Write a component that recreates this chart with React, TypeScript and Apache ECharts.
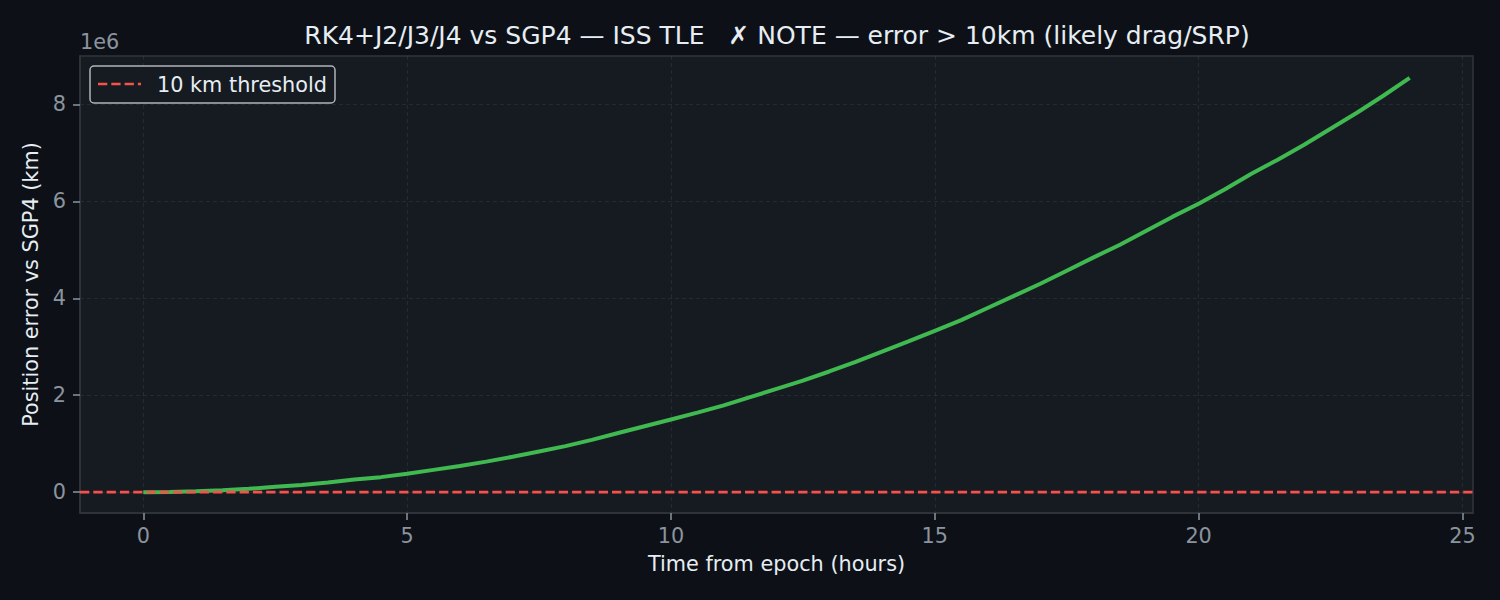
import React, { useEffect, useRef } from "react";
import * as echarts from "echarts";

const hours = [0, 0.5, 1, 1.5, 2, 2.5, 3, 3.5, 4, 4.5, 5, 5.5, 6, 6.5, 7, 7.5, 8, 8.5, 9, 9.5, 10, 10.5, 11, 11.5, 12, 12.5, 13, 13.5, 14, 14.5, 15, 15.5, 16, 16.5, 17, 17.5, 18, 18.5, 19, 19.5, 20, 20.5, 21, 21.5, 22, 22.5, 23, 23.5, 24];
// position error in millions of km
const errorMkm = [0, 0.005, 0.02, 0.04, 0.07, 0.11, 0.15, 0.2, 0.26, 0.31, 0.38, 0.46, 0.54, 0.63, 0.73, 0.84, 0.95, 1.08, 1.22, 1.36, 1.5, 1.64, 1.79, 1.96, 2.13, 2.3, 2.49, 2.69, 2.9, 3.11, 3.33, 3.55, 3.8, 4.05, 4.3, 4.57, 4.84, 5.1, 5.39, 5.68, 5.95, 6.25, 6.57, 6.86, 7.17, 7.5, 7.83, 8.18, 8.55];
const thresholdKm = 10;
const xTicks = [0, 5, 10, 15, 20, 25];
const yTicks = [0, 2e6, 4e6, 6e6, 8e6];
const xRange = [-1.2, 25.2];
const yRange = [-0.43e6, 9.0e6];

const FONT = "DejaVu Sans";
const BG = "#0d1117";
const PANEL = "#161b22";
const TICK = "#8b949e";
const LABEL = "#e6edf3";
const FRAME = "#30363d";
const GRIDC = "rgba(139,148,158,0.13)";

export default function App() {
  const ref = useRef<HTMLDivElement>(null);
  useEffect(() => {
    document.body.style.margin = "0";
    const chart = echarts.init(ref.current!, null, { renderer: "svg" });
    const errData = hours.map((h, i) => [h, errorMkm[i] * 1e6]);
    chart.setOption({
      animation: false,
      backgroundColor: BG,
      textStyle: { fontFamily: FONT },
      title: {
        text: "RK4+J2/J3/J4 vs SGP4 — ISS TLE   ✗ NOTE — error > 10km (likely drag/SRP)",
        left: 772,
        textAlign: "center",
        top: 18,
        textStyle: { color: LABEL, fontSize: 25, fontWeight: "normal", fontFamily: FONT },
      },
      grid: {
        left: 80,
        right: 27,
        top: 56,
        bottom: 87,
        show: true,
        backgroundColor: PANEL,
        borderColor: FRAME,
        borderWidth: 1.5,
      },
      xAxis: {
        type: "value",
        min: xRange[0],
        max: xRange[1],
        name: "Time from epoch (hours)",
        nameLocation: "middle",
        nameGap: 40,
        nameTextStyle: { color: LABEL, fontSize: 20.8, fontFamily: FONT },
        axisLine: { show: true, onZero: false, lineStyle: { color: FRAME, width: 1.5 } },
        axisTick: { show: true, inside: false, length: 7, customValues: xTicks, lineStyle: { color: TICK, width: 1.5 } },
        axisLabel: { customValues: xTicks, color: TICK, fontSize: 20.8, margin: 12, fontFamily: FONT },
        splitLine: { show: true, lineStyle: { color: GRIDC, type: [4, 3], width: 1.2 } },
      },
      yAxis: {
        type: "value",
        min: yRange[0],
        max: yRange[1],
        name: "Position error vs SGP4 (km)",
        nameLocation: "middle",
        nameGap: 38,
        nameTextStyle: { color: LABEL, fontSize: 20.8, fontFamily: FONT },
        axisLine: { show: true, onZero: false, lineStyle: { color: FRAME, width: 1.5 } },
        axisTick: { show: true, inside: false, length: 7, customValues: yTicks, lineStyle: { color: TICK, width: 1.5 } },
        axisLabel: {
          customValues: yTicks,
          color: TICK,
          fontSize: 20.8,
          margin: 14,
          fontFamily: FONT,
          formatter: (v: number) => String(Math.round(v / 1e6)),
        },
        splitLine: { show: true, lineStyle: { color: GRIDC, type: [4, 3], width: 1.2 } },
      },
      series: [
        {
          name: "10 km threshold",
          type: "line",
          data: [[xRange[0], thresholdKm], [xRange[1], thresholdKm]],
          showSymbol: false,
          symbol: "none",
          lineStyle: { color: "#f85149", width: 2.6, type: [9.3, 4] },
          z: 3,
        },
        {
          name: "error",
          type: "line",
          data: errData,
          showSymbol: false,
          symbol: "none",
          lineStyle: { color: "#3fb950", width: 4 },
          z: 2,
        },
      ],
      graphic: [
        {
          type: "text",
          left: 80,
          top: 31,
          style: { text: "1e6", fill: TICK, font: `20.8px ${FONT}` },
        },
        {
          type: "rect",
          shape: { x: 90, y: 66, width: 245, height: 37, r: 4 },
          style: { fill: PANEL, stroke: "#b1b5ba", lineWidth: 1.5 },
          z: 10,
        },
        {
          type: "line",
          shape: { x1: 98, y1: 84, x2: 141, y2: 84 },
          style: { stroke: "#f85149", lineWidth: 2.6, lineDash: [9.3, 4] },
          z: 11,
        },
        {
          type: "text",
          x: 157,
          y: 85,
          style: { text: "10 km threshold", fill: LABEL, font: `20.8px ${FONT}`, verticalAlign: "middle" },
          z: 11,
        },
      ],
    });
    return () => chart.dispose();
  }, []);
  return <div ref={ref} style={{ position: "absolute", left: 0, top: 0, width: 1500, height: 600 }} />;
}
